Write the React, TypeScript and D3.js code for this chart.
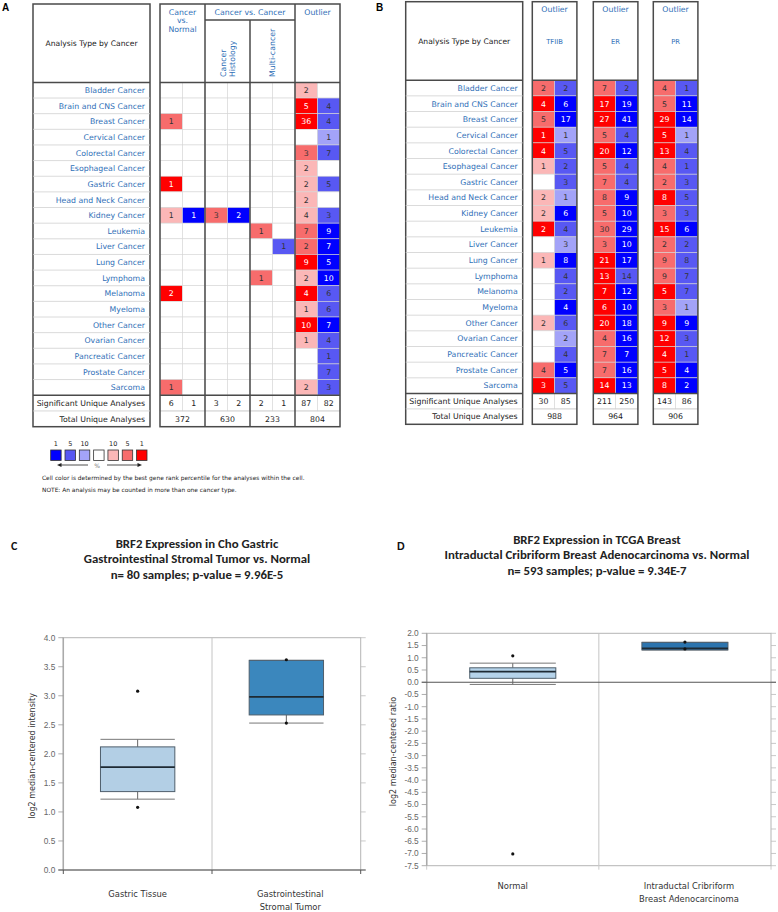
import React from 'react';
import * as d3 from 'd3';

type Cell = [number, number] | null; // [count, best gene rank percentile]
const _ = null;

const cancerTypes = [
  'Bladder Cancer', 'Brain and CNS Cancer', 'Breast Cancer', 'Cervical Cancer', 'Colorectal Cancer',
  'Esophageal Cancer', 'Gastric Cancer', 'Head and Neck Cancer', 'Kidney Cancer', 'Leukemia',
  'Liver Cancer', 'Lung Cancer', 'Lymphoma', 'Melanoma', 'Myeloma', 'Other Cancer',
  'Ovarian Cancer', 'Pancreatic Cancer', 'Prostate Cancer', 'Sarcoma',
];

// panel A
const aCvnUp: Cell[] = [_, _, [1, 5], _, _, _, [1, 1], _, [1, 10], _, _, _, _, [2, 1], _, _, _, _, _, [1, 5]];
const aCvnDown: Cell[] = [_, _, _, _, _, _, _, _, [1, 1], _, _, _, _, _, _, _, _, _, _, _];
const aHistUp: Cell[] = [_, _, _, _, _, _, _, _, [3, 5], _, _, _, _, _, _, _, _, _, _, _];
const aHistDown: Cell[] = [_, _, _, _, _, _, _, _, [2, 1], _, _, _, _, _, _, _, _, _, _, _];
const aMultiUp: Cell[] = [_, _, _, _, _, _, _, _, _, [1, 5], _, _, [1, 5], _, _, _, _, _, _, _];
const aMultiDown: Cell[] = [_, _, _, _, _, _, _, _, _, _, [1, 5], _, _, _, _, _, _, _, _, _];
const aOutUp: Cell[] = [[2, 10], [5, 1], [36, 1], _, [3, 5], [2, 10], [2, 10], [2, 10], [4, 10], [7, 5], [2, 5], [9, 1], [2, 10], [4, 1], [1, 10], [10, 1], [1, 10], _, _, [2, 10]];
const aOutDown: Cell[] = [_, [4, 5], [4, 5], [1, 10], [7, 5], _, [5, 5], _, [3, 5], [9, 1], [7, 1], [5, 1], [10, 1], [6, 5], [6, 5], [7, 1], [4, 5], [1, 5], [7, 5], [3, 5]];
const aSig = [6, 1, 3, 2, 2, 1, 87, 82];
const aTotal = [372, 630, 233, 804];

// panel B
const bGroups = ['TFIIB', 'ER', 'PR'];
const tfiibUp: Cell[] = [[2, 5], [4, 1], [5, 5], [1, 1], [4, 1], [1, 10], _, [2, 10], [2, 10], [2, 1], _, [1, 10], _, _, _, [2, 10], _, _, [4, 5], [3, 1]];
const tfiibDown: Cell[] = [[2, 5], [6, 1], [17, 1], [1, 10], [5, 5], [2, 5], [3, 5], [1, 10], [6, 1], [4, 5], [3, 10], [8, 1], [4, 5], [2, 5], [4, 1], [6, 5], [2, 10], [4, 5], [5, 1], [5, 5]];
const erUp: Cell[] = [[7, 5], [17, 1], [27, 1], [5, 5], [20, 1], [5, 5], [7, 5], [8, 5], [5, 5], [30, 5], [3, 5], [21, 1], [13, 1], [7, 1], [6, 1], [20, 1], [4, 5], [7, 5], [7, 5], [14, 1]];
const erDown: Cell[] = [[2, 5], [19, 1], [41, 1], [4, 5], [12, 1], [4, 5], [4, 5], [9, 1], [10, 1], [29, 1], [10, 1], [17, 1], [14, 5], [12, 1], [10, 1], [18, 1], [16, 1], [7, 1], [16, 1], [13, 1]];
const prUp: Cell[] = [[4, 5], [5, 5], [29, 1], [5, 1], [13, 1], [4, 5], [2, 5], [8, 1], [3, 5], [15, 1], [2, 5], [9, 5], [9, 5], [5, 1], [3, 5], [9, 1], [12, 1], [4, 1], [5, 1], [8, 1]];
const prDown: Cell[] = [[1, 5], [11, 1], [14, 1], [1, 10], [4, 5], [1, 5], [3, 5], [5, 5], [3, 5], [6, 1], [2, 5], [8, 5], [7, 5], [7, 5], [1, 10], [9, 1], [3, 5], [1, 5], [4, 1], [2, 1]];
const bSig = [30, 85, 211, 250, 143, 86];
const bTotal = [988, 964, 906];

// legend
const legendLabels = ['1', '5', '10', '', '10', '5', '1'];
const legendPct = [1, 5, 10, 0, 10, 5, 1];

// panel C
const cGroups = ['Gastric Tissue', 'Gastrointestinal Stromal Tumor'];
const cLow = [1.22, 2.53];
const cQ1 = [1.35, 2.67];
const cMedian = [1.77, 2.98];
const cQ3 = [2.12, 3.61];
const cHigh = [2.25, 3.61];
const cPoints = [[1.08, 3.08], [2.53, 3.62]];

// panel D
const dGroups = ['Normal', 'Intraductal Cribriform Breast Adenocarcinoma'];
const dLow = [-0.09, 1.32];
const dQ1 = [0.16, 1.32];
const dMedian = [0.43, 1.38];
const dQ3 = [0.59, 1.63];
const dHigh = [0.78, 1.63];
const dPoints = [[1.08, -7.02], [1.64, 1.36]];

const tf = '"DejaVu Sans", Verdana, sans-serif';
const titleFont = 'Carlito, "Liberation Sans", Arial, sans-serif';
const tickFont = '"Liberation Sans", Arial, sans-serif';
const linkBlue = '#2f6fb7';
const frame = '#4a4a4a';

const redScale = d3.scaleOrdinal<number, string>().domain([1, 5, 10]).range(['#ff0000', '#f76c6c', '#fbb7b7']);
const blueScale = d3.scaleOrdinal<number, string>().domain([1, 5, 10]).range(['#0000ff', '#5858f3', '#a3a3f8']);

function cellCol(col: Cell[], x: number, w: number, y: d3.ScaleBand<number>, up: boolean, key: string) {
  return col.map((c, i) => (
    <g key={key + i}>
      <rect x={x} y={y(i)} width={w} height={y.bandwidth()}
        fill={c ? (up ? redScale(c[1]) : blueScale(c[1])) : '#fff'} stroke="#d6d6d6" strokeWidth={0.6} />
      {c && (
        <text x={x + w / 2} y={(y(i) as number) + y.bandwidth() / 2} dy="0.36em" textAnchor="middle"
          fontSize={7.8} fill={c[1] === 1 ? '#fff' : '#333'}>{c[0]}</text>
      )}
    </g>
  ));
}

function LabelBox({ x0, x1, top, headBottom, y, bottom }: { x0: number; x1: number; top: number; headBottom: number; y: d3.ScaleBand<number>; bottom: number }) {
  const rowsBottom = y.range()[1];
  const sigMid = (rowsBottom + bottom) / 2;
  return (
    <g fontFamily={tf}>
      <rect x={x0} y={top} width={x1 - x0} height={bottom - top} fill="#fff" stroke={frame} strokeWidth={1.5} />
      <text x={(x0 + x1) / 2} y={(top + headBottom) / 2} dy="0.35em" textAnchor="middle" fontSize={7.6} fill="#222">Analysis Type by Cancer</text>
      {cancerTypes.map((c, i) => (
        <g key={c}>
          {i > 0 && <line x1={x0} x2={x1} y1={y(i)} y2={y(i)} stroke="#d0d0d0" strokeWidth={0.8} />}
          <text x={x1 - 5} y={(y(i) as number) + y.bandwidth() / 2} dy="0.36em" textAnchor="end" fontSize={7.8} fill={linkBlue}>{c}</text>
        </g>
      ))}
      <line x1={x0} x2={x1} y1={headBottom} y2={headBottom} stroke={frame} strokeWidth={1.5} />
      <line x1={x0} x2={x1} y1={rowsBottom} y2={rowsBottom} stroke={frame} strokeWidth={1.5} />
      <line x1={x0} x2={x1} y1={sigMid} y2={sigMid} stroke="#cfcfcf" strokeWidth={0.8} />
      <text x={x1 - 5} y={(rowsBottom + sigMid) / 2} dy="0.36em" textAnchor="end" fontSize={7.8} fill="#222">Significant Unique Analyses</text>
      <text x={x1 - 5} y={(sigMid + bottom) / 2} dy="0.36em" textAnchor="end" fontSize={7.8} fill="#222">Total Unique Analyses</text>
    </g>
  );
}

function PanelA() {
  const top = 4, headBottom = 82.4, bottom = 426.7;
  const y = d3.scaleBand<number>().domain(d3.range(20)).range([82.4, 395.2]);
  const x = d3.scaleBand<number>().domain(d3.range(8)).range([160, 340]);
  const cols = [aCvnUp, aCvnDown, aHistUp, aHistDown, aMultiUp, aMultiDown, aOutUp, aOutDown];
  const rowsBottom = y.range()[1];
  const sigMid = (rowsBottom + bottom) / 2;
  const w = x.bandwidth();
  const gx = (g: number) => x(g * 2) as number;
  return (
    <g>
      <LabelBox x0={33} x1={150} top={top} headBottom={headBottom} y={y} bottom={bottom} />
      <g fontFamily={tf}>
        <rect x={160} y={top} width={180} height={bottom - top} fill="#fff" />
        {cols.map((col, j) => cellCol(col, x(j) as number, w, y, j % 2 === 0, 'a' + j))}
        {aSig.map((v, j) => (
          <g key={'s' + j}>
            <rect x={x(j)} y={rowsBottom} width={w} height={sigMid - rowsBottom} fill="#fff" stroke="#d6d6d6" strokeWidth={0.6} />
            <text x={(x(j) as number) + w / 2} y={(rowsBottom + sigMid) / 2} dy="0.36em" textAnchor="middle" fontSize={7.8} fill="#222">{v}</text>
          </g>
        ))}
        {aTotal.map((v, g) => (
          <text key={'t' + g} x={gx(g) + w} y={(sigMid + bottom) / 2} dy="0.36em" textAnchor="middle" fontSize={7.8} fill="#222">{v}</text>
        ))}
        <line x1={160} x2={340} y1={sigMid} y2={sigMid} stroke="#cfcfcf" strokeWidth={0.8} />
        {/* headers */}
        <g fill={linkBlue} fontSize={7.8} textAnchor="middle">
          <text x={gx(0) + w} y={12} dy="0.35em">Cancer</text>
          <text x={gx(0) + w} y={20.5} dy="0.35em">vs.</text>
          <text x={gx(0) + w} y={29} dy="0.35em">Normal</text>
          <text x={gx(2)} y={12} dy="0.35em">Cancer vs. Cancer</text>
          <text x={gx(3) + w} y={12} dy="0.35em">Outlier</text>
          <text transform={`translate(${gx(1) + w - 4},77) rotate(-90)`} textAnchor="start" dy="0.35em">Cancer</text>
          <text transform={`translate(${gx(1) + w + 5},77) rotate(-90)`} textAnchor="start" dy="0.35em">Histology</text>
          <text transform={`translate(${gx(2) + w},77) rotate(-90)`} textAnchor="start" dy="0.35em">Multi-cancer</text>
        </g>
        <rect x={160} y={top} width={180} height={bottom - top} fill="none" stroke={frame} strokeWidth={1.5} />
        {[1, 2, 3].map(g => (
          <line key={g} x1={gx(g)} x2={gx(g)} y1={g === 2 ? 20 : top} y2={bottom} stroke={frame} strokeWidth={1.5} />
        ))}
        <line x1={gx(1)} x2={gx(3)} y1={20} y2={20} stroke={frame} strokeWidth={1.5} />
        <line x1={160} x2={340} y1={headBottom} y2={headBottom} stroke={frame} strokeWidth={1.5} />
        <line x1={160} x2={340} y1={rowsBottom} y2={rowsBottom} stroke={frame} strokeWidth={1.5} />
      </g>
    </g>
  );
}

function PanelB() {
  const top = 1.7, headBottom = 80.2, bottom = 424.3;
  const y = d3.scaleBand<number>().domain(d3.range(20)).range([80.2, 393.5]);
  const gxs = [532.3, 593.3, 653.3];
  const gw = 44.6;
  const cols = [[tfiibUp, tfiibDown], [erUp, erDown], [prUp, prDown]];
  const rowsBottom = y.range()[1];
  const sigMid = (rowsBottom + bottom) / 2;
  return (
    <g>
      <LabelBox x0={405.7} x1={522.7} top={top} headBottom={headBottom} y={y} bottom={bottom} />
      <g fontFamily={tf}>
        {bGroups.map((name, g) => {
          const x = d3.scaleBand<number>().domain([0, 1]).range([gxs[g], gxs[g] + gw]);
          const w = x.bandwidth();
          return (
            <g key={name}>
              <rect x={gxs[g]} y={top} width={gw} height={bottom - top} fill="#fff" />
              {cols[g].map((col, j) => cellCol(col, x(j) as number, w, y, j === 0, name + j))}
              {[0, 1].map(j => (
                <g key={'s' + j}>
                  <rect x={x(j)} y={rowsBottom} width={w} height={sigMid - rowsBottom} fill="#fff" stroke="#d6d6d6" strokeWidth={0.6} />
                  <text x={(x(j) as number) + w / 2} y={(rowsBottom + sigMid) / 2} dy="0.36em" textAnchor="middle" fontSize={7.8} fill="#222">{bSig[g * 2 + j]}</text>
                </g>
              ))}
              <line x1={gxs[g]} x2={gxs[g] + gw} y1={sigMid} y2={sigMid} stroke="#cfcfcf" strokeWidth={0.8} />
              <text x={gxs[g] + gw / 2} y={(sigMid + bottom) / 2} dy="0.36em" textAnchor="middle" fontSize={7.8} fill="#222">{bTotal[g]}</text>
              <text x={gxs[g] + gw / 2} y={9.3} dy="0.35em" textAnchor="middle" fontSize={7.8} fill={linkBlue}>Outlier</text>
              <text x={gxs[g] + gw / 2} y={41.7} dy="0.35em" textAnchor="middle" fontSize={6.8} fill={linkBlue}>{name}</text>
              <rect x={gxs[g]} y={top} width={gw} height={bottom - top} fill="none" stroke={frame} strokeWidth={1.5} />
              <line x1={gxs[g]} x2={gxs[g] + gw} y1={headBottom} y2={headBottom} stroke={frame} strokeWidth={1.5} />
              <line x1={gxs[g]} x2={gxs[g] + gw} y1={rowsBottom} y2={rowsBottom} stroke={frame} strokeWidth={1.5} />
            </g>
          );
        })}
      </g>
    </g>
  );
}

function Legend() {
  const x = d3.scaleBand<number>().domain(d3.range(7)).range([50.7, 147]).paddingInner(0.27).paddingOuter(0);
  const s = x.bandwidth();
  return (
    <g fontFamily={tf}>
      {legendPct.map((p, i) => (
        <g key={i}>
          <rect x={x(i)} y={450} width={s} height={s}
            fill={p === 0 ? '#fff' : i < 3 ? blueScale(p) : redScale(p)} stroke="#333" strokeWidth={0.8} />
          <text x={(x(i) as number) + s / 2} y={445.5} textAnchor="middle" fontSize={6.5} fill="#222">{legendLabels[i]}</text>
        </g>
      ))}
      <line x1={59} x2={88} y1={465} y2={465} stroke="#222" strokeWidth={0.8} />
      <path d="M57,465 L61.5,463 L61.5,467 Z" fill="#222" />
      <text x={97} y={467.5} textAnchor="middle" fontSize={6} fill="#777">%</text>
      <line x1={107} x2={140} y1={465} y2={465} stroke="#222" strokeWidth={0.8} />
      <path d="M142,465 L137.5,463 L137.5,467 Z" fill="#222" />
      <text x={42} y={480} fontSize={5.9} fill="#222">Cell color is determined by the best gene rank percentile for the analyses within the cell.</text>
      <text x={42} y={492} fontSize={5.9} fill="#222">NOTE: An analysis may be counted in more than one cancer type.</text>
    </g>
  );
}

type BoxProps = {
  left: number; right: number; top: number; bottom: number; domain: [number, number]; tickCount: number;
  groups: string[]; groupLines: string[][]; low: number[]; q1: number[]; median: number[]; q3: number[]; high: number[]; points: number[][];
  fills: string[]; yLabel: string; yLabelX: number; labelY: number;
  title: string[]; titleX: number; titleY: number; letter: string; letterX: number; letterY: number;
};

function BoxPlot(p: BoxProps) {
  const y = d3.scaleLinear().domain(p.domain).range([p.bottom, p.top]);
  const x = d3.scaleBand<string>().domain(p.groups).range([p.left, p.right]);
  const bw = x.bandwidth() * 0.5;
  const ticks = y.ticks(p.tickCount);
  const fmt = d3.format('.1f');
  const zeroY = y(0);
  return (
    <g>
      <text x={p.letterX} y={p.letterY} fontFamily={titleFont} fontSize={12} fontWeight="bold" fill="#111">{p.letter}</text>
      {p.title.map((t, i) => (
        <text key={i} x={p.titleX} y={p.titleY + i * 15.6} textAnchor="middle" fontFamily={titleFont} fontSize={12.8} fontWeight="bold" fill="#222">{t}</text>
      ))}
      <rect x={p.left} y={p.top} width={p.right - p.left} height={p.bottom - p.top} fill="#fff" stroke="#b5b5b5" strokeWidth={1} />
      <line x1={p.left} x2={p.left} y1={p.top} y2={p.bottom} stroke="#aaa" strokeWidth={1.5} />
      <line x1={(p.left + p.right) / 2} x2={(p.left + p.right) / 2} y1={p.top} y2={p.bottom} stroke="#c4c4c4" strokeWidth={1} />
      {ticks.map(t => (
        <g key={t}>
          <line x1={p.left - 5} x2={p.left} y1={y(t)} y2={y(t)} stroke="#999" strokeWidth={0.8} />
          <line x1={p.right} x2={p.right + 5} y1={y(t)} y2={y(t)} stroke="#bbb" strokeWidth={0.8} />
          <text x={p.left - 8} y={y(t)} dy="0.35em" textAnchor="end" fontFamily={tickFont} fontSize={8.3} fill="#666">{fmt(t).replace('−', '-')}</text>
        </g>
      ))}
      <line x1={p.left - 5} x2={p.right + 5} y1={zeroY} y2={zeroY} stroke="#555" strokeWidth={1.2} />
      {[p.left, (p.left + p.right) / 2, p.right].map(xx => (
        <line key={xx} x1={xx} x2={xx} y1={p.bottom} y2={p.bottom + 4} stroke={p.domain[0] === 0 ? '#555' : '#ccc'} strokeWidth={1} />
      ))}
      {p.groups.map((g, i) => {
        const cx = (x(g) as number) + x.bandwidth() / 2;
        return (
          <g key={g}>
            <line x1={cx} x2={cx} y1={y(p.q3[i])} y2={y(p.high[i])} stroke="#666" strokeWidth={1} />
            <line x1={cx} x2={cx} y1={y(p.q1[i])} y2={y(p.low[i])} stroke="#666" strokeWidth={1} />
            <line x1={cx - bw / 2} x2={cx + bw / 2} y1={y(p.high[i])} y2={y(p.high[i])} stroke="#777" strokeWidth={1} />
            <line x1={cx - bw / 2} x2={cx + bw / 2} y1={y(p.low[i])} y2={y(p.low[i])} stroke="#777" strokeWidth={1} />
            <rect x={cx - bw / 2} y={y(p.q3[i])} width={bw} height={y(p.q1[i]) - y(p.q3[i])} fill={p.fills[i]} stroke="#4f5f6c" strokeWidth={1} />
            <line x1={cx - bw / 2} x2={cx + bw / 2} y1={y(p.median[i])} y2={y(p.median[i])} stroke="#1e2a33" strokeWidth={1.8} />
            {p.points[i].map((v, k) => <circle key={k} cx={cx} cy={y(v)} r={1.6} fill="#111" />)}
            {p.groupLines[i].map((t, k) => (
              <text key={k} x={cx + (p.groupLines[i].length > 1 ? 4 : 0)} y={p.labelY + k * 13.5} textAnchor="middle" fontFamily={tf} fontSize={8.4} fill="#333">{t}</text>
            ))}
          </g>
        );
      })}
      <text transform={`translate(${p.yLabelX},${(p.top + p.bottom) / 2 + 2}) rotate(-90)`} textAnchor="middle" fontFamily={tf} fontSize={8} fill="#333">{p.yLabel}</text>
    </g>
  );
}

export default function App() {
  return (
    <div style={{ position: 'absolute', left: 0, top: 0, background: '#fff' }}>
      <svg width={778} height={912} style={{ display: 'block' }}>
        <rect width={778} height={912} fill="#fff" />
        <text x={2} y={11} fontFamily='"Liberation Sans", Arial, sans-serif' fontSize={10} fontWeight="bold">A</text>
        <text x={376} y={11} fontFamily='"Liberation Sans", Arial, sans-serif' fontSize={10} fontWeight="bold">B</text>
        <PanelA />
        <PanelB />
        <Legend />
        <BoxPlot left={63.3} right={360.7} top={637.7} bottom={870} domain={[0, 4]} tickCount={8}
          groups={cGroups} groupLines={[['Gastric Tissue'], ['Gastrointestinal', 'Stromal Tumor']]}
          low={cLow} q1={cQ1} median={cMedian} q3={cQ3} high={cHigh} points={cPoints}
          fills={['#b3cfe5', '#3b87bd']} yLabel="log2 median-centered intensity" yLabelX={35} labelY={896.5}
          title={['BRF2 Expression in Cho Gastric', 'Gastrointestinal Stromal Tumor vs. Normal', 'n= 80 samples; p-value = 9.96E-5']}
          titleX={197} titleY={547.5} letter="C" letterX={11} letterY={550} />
        <BoxPlot left={426.7} right={771} top={633.3} bottom={865.7} domain={[-7.5, 2]} tickCount={19}
          groups={dGroups} groupLines={[['Normal'], ['Intraductal Cribriform', 'Breast Adenocarcinoma']]}
          low={dLow} q1={dQ1} median={dMedian} q3={dQ3} high={dHigh} points={dPoints}
          fills={['#b5d3ea', '#2c74ae']} yLabel="log2 median-centered ratio" yLabelX={396} labelY={888.5}
          title={['BRF2 Expression in TCGA Breast', 'Intraductal Cribriform Breast Adenocarcinoma vs. Normal', 'n= 593 samples; p-value = 9.34E-7']}
          titleX={597} titleY={543.5} letter="D" letterX={397} letterY={550} />
      </svg>
    </div>
  );
}
